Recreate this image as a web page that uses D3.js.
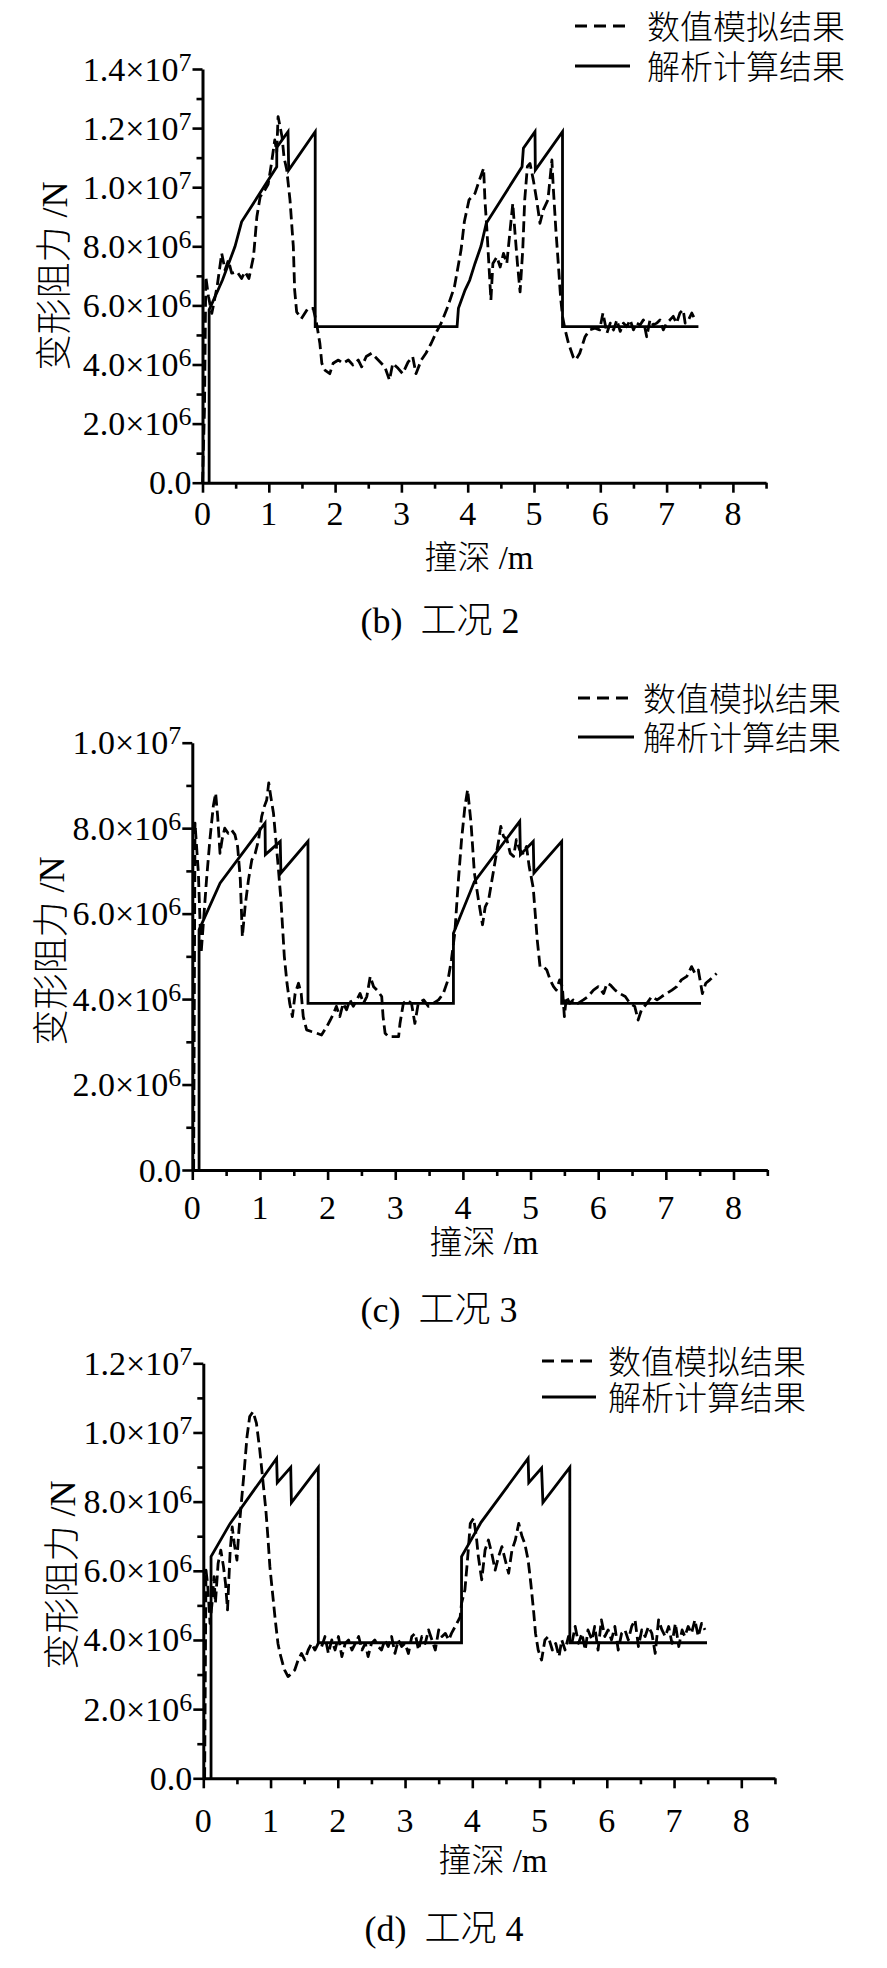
<!DOCTYPE html>
<html><head><meta charset="utf-8">
<script src="https://cdn.jsdelivr.net/npm/d3@7/dist/d3.min.js"></script>
<style>
body{margin:0;background:#fff;}
svg{display:block;}
</style></head><body>
<svg id="chart" width="887" height="1968"></svg>
<script>
// ---------------- DATA (depth in m, force in 10^6 N) ----------------
const seriesNames = ["数值模拟结果", "解析计算结果"];
const xAxisTitle = "撞深 /m";
const yAxisTitle = "变形阻力 /N";
const captions = ["(b)  工况 2", "(c)  工况 3", "(d)  工况 4"];
const xTickValues = [0,1,2,3,4,5,6,7,8];
const xTickLabels = ["0","1","2","3","4","5","6","7","8"];
const yTicksB = [0,2,4,6,8,10,12,14];
const yTicksC = [0,2,4,6,8,10];
const yTicksD = [0,2,4,6,8,10,12];
const yTickLabelsB = [["0.0",""],["2.0×10","6"],["4.0×10","6"],["6.0×10","6"],["8.0×10","6"],["1.0×10","7"],["1.2×10","7"],["1.4×10","7"]];
const yTickLabelsC = [["0.0",""],["2.0×10","6"],["4.0×10","6"],["6.0×10","6"],["8.0×10","6"],["1.0×10","7"]];
const yTickLabelsD = [["0.0",""],["2.0×10","6"],["4.0×10","6"],["6.0×10","6"],["8.0×10","6"],["1.0×10","7"],["1.2×10","7"]];

// case 2 (b)
const anaB = [[0.1,0],[0.1,5.85],[0.3,6.85],[0.49,7.99],[0.59,8.83],[1.12,10.69],[1.12,11.35],[1.29,11.88],[1.30,10.58],[1.70,11.88],[1.70,5.28],[3.84,5.28],[3.86,5.90],[3.96,6.52],[4.03,6.85],[4.11,7.42],[4.20,8.0],[4.28,8.78],[4.82,10.69],[4.84,11.32],[5.015,11.88],[5.02,10.58],[5.43,11.88],[5.43,5.28],[7.48,5.28]];
const numB = [[0,0],[0.03,2.5],[0.05,6.97],[0.09,6.3],[0.14,5.73],[0.22,6.63],[0.29,7.76],[0.34,7.2],[0.39,7.53],[0.44,7.09],[0.52,7.14],[0.59,6.91],[0.64,7.14],[0.70,6.91],[0.77,7.66],[0.82,9.0],[0.87,9.68],[0.94,9.9],[0.99,10.1],[1.04,10.8],[1.09,11.6],[1.12,11.2],[1.14,12.39],[1.17,12.05],[1.20,11.7],[1.23,11.0],[1.27,10.6],[1.32,9.56],[1.37,7.99],[1.39,6.52],[1.42,5.78],[1.49,5.55],[1.59,5.9],[1.67,5.9],[1.72,5.4],[1.77,4.72],[1.80,4.04],[1.85,3.8],[1.92,3.69],[1.97,4.04],[2.05,4.15],[2.12,4.04],[2.20,4.15],[2.27,3.98],[2.35,4.15],[2.40,3.92],[2.47,4.27],[2.55,4.38],[2.65,4.15],[2.75,3.92],[2.82,3.47],[2.87,4.04],[2.95,3.87],[3.02,3.69],[3.10,4.08],[3.17,4.27],[3.22,3.69],[3.30,4.15],[3.37,4.38],[3.45,4.72],[3.52,5.06],[3.60,5.4],[3.70,5.96],[3.80,6.63],[3.90,7.88],[3.95,8.84],[4.02,9.57],[4.07,9.7],[4.11,9.79],[4.17,10.2],[4.24,10.64],[4.26,9.57],[4.29,8.55],[4.33,6.98],[4.35,6.18],[4.38,7.42],[4.44,7.64],[4.49,7.3],[4.54,7.76],[4.59,7.42],[4.63,8.33],[4.68,9.45],[4.71,8.55],[4.75,7.42],[4.79,6.46],[4.83,7.87],[4.86,9.57],[4.90,10.7],[4.94,10.8],[4.99,10.24],[5.04,9.57],[5.09,8.78],[5.14,9.23],[5.21,9.57],[5.27,10.92],[5.29,10.02],[5.33,8.55],[5.37,7.3],[5.40,6.3],[5.43,5.63],[5.47,5.17],[5.52,4.72],[5.59,4.26],[5.63,4.15],[5.69,4.38],[5.77,4.94],[5.84,5.17],[5.92,5.23],[5.99,5.17],[6.04,5.74],[6.10,5.06],[6.15,5.4],[6.20,5.17],[6.25,5.51],[6.30,5.12],[6.35,5.4],[6.40,5.28],[6.45,5.51],[6.50,5.17],[6.55,5.4],[6.60,5.34],[6.65,5.51],[6.70,4.94],[6.75,5.51],[6.80,5.34],[6.85,5.4],[6.90,5.51],[6.95,5.17],[7.00,5.4],[7.05,5.51],[7.10,5.63],[7.15,5.4],[7.20,5.74],[7.25,5.85],[7.28,5.4],[7.33,5.51],[7.38,5.74],[7.43,5.51]];

// case 3 (c)
const anaC = [[0.1,0],[0.1,5.62],[0.41,6.71],[1.075,8.12],[1.08,7.38],[1.30,7.69],[1.31,6.95],[1.71,7.69],[1.71,3.90],[3.86,3.90],[3.86,5.54],[4.17,6.75],[4.84,8.16],[4.85,7.38],[5.04,7.69],[5.05,6.95],[5.46,7.69],[5.46,3.90],[7.52,3.90]];
const numC = [[0.02,0],[0.03,4.0],[0.04,8.12],[0.09,6.95],[0.13,5.07],[0.16,5.7],[0.21,6.79],[0.26,7.73],[0.31,8.51],[0.345,8.82],[0.375,8.27],[0.41,7.41],[0.44,7.73],[0.48,8.0],[0.53,7.88],[0.58,7.96],[0.63,7.85],[0.67,7.57],[0.71,6.79],[0.74,5.46],[0.78,6.16],[0.83,6.79],[0.88,7.26],[0.93,7.41],[0.98,7.73],[1.025,8.27],[1.065,8.51],[1.10,8.66],[1.13,9.06],[1.16,8.74],[1.20,8.35],[1.23,7.81],[1.27,7.1],[1.31,6.32],[1.34,5.54],[1.36,5.0],[1.40,4.37],[1.44,3.9],[1.48,3.59],[1.52,4.13],[1.57,4.37],[1.61,4.13],[1.64,3.59],[1.69,3.28],[1.76,3.24],[1.84,3.2],[1.91,3.16],[1.99,3.36],[2.04,3.51],[2.09,3.67],[2.13,3.83],[2.18,3.59],[2.23,3.9],[2.28,3.75],[2.33,3.98],[2.38,3.83],[2.43,3.98],[2.48,4.13],[2.53,3.9],[2.58,4.06],[2.63,4.53],[2.68,4.29],[2.73,4.21],[2.80,4.06],[2.82,3.59],[2.85,3.2],[2.90,3.12],[2.97,3.12],[3.05,3.12],[3.07,3.43],[3.12,3.9],[3.17,3.98],[3.24,3.9],[3.29,3.43],[3.34,3.9],[3.42,3.98],[3.49,3.83],[3.56,3.9],[3.64,3.98],[3.71,4.13],[3.78,4.45],[3.83,4.92],[3.88,5.54],[3.93,6.71],[3.98,7.73],[4.03,8.51],[4.07,8.9],[4.12,8.12],[4.17,6.95],[4.23,6.32],[4.29,5.74],[4.33,6.16],[4.38,6.32],[4.43,6.79],[4.48,7.26],[4.53,7.73],[4.56,8.04],[4.60,7.81],[4.65,7.73],[4.70,7.41],[4.75,7.34],[4.79,7.73],[4.84,7.49],[4.89,7.41],[4.94,7.57],[4.98,7.1],[5.04,6.6],[5.07,5.98],[5.10,5.37],[5.14,4.76],[5.19,4.76],[5.24,4.68],[5.29,4.45],[5.34,4.29],[5.38,4.21],[5.43,4.45],[5.47,4.29],[5.50,3.59],[5.53,4.06],[5.58,3.9],[5.63,3.98],[5.70,3.9],[5.78,3.98],[5.85,4.06],[5.93,4.21],[6.00,4.29],[6.08,4.13],[6.13,4.37],[6.18,4.33],[6.25,4.21],[6.32,4.13],[6.40,4.06],[6.47,3.9],[6.54,3.83],[6.59,3.51],[6.64,3.75],[6.72,3.9],[6.79,4.06],[6.87,3.98],[6.94,4.06],[7.01,4.13],[7.09,4.21],[7.16,4.29],[7.23,4.45],[7.31,4.53],[7.38,4.76],[7.43,4.6],[7.48,4.68],[7.54,4.13],[7.59,4.37],[7.65,4.45],[7.75,4.6]];

// case 4 (d)
const anaD = [[0.115,0],[0.115,6.41],[0.40,7.37],[1.09,9.25],[1.10,8.55],[1.30,8.99],[1.31,7.97],[1.71,8.99],[1.71,3.92],[3.84,3.92],[3.84,6.41],[4.13,7.40],[4.83,9.25],[4.84,8.55],[5.03,8.97],[5.05,7.97],[5.45,8.99],[5.45,3.92],[7.49,3.92]];
const numD = [[0.02,0],[0.03,3.0],[0.04,6.02],[0.065,5.6],[0.10,4.48],[0.13,5.06],[0.16,5.83],[0.18,5.06],[0.22,6.21],[0.26,6.6],[0.30,6.12],[0.33,5.64],[0.36,4.87],[0.40,6.6],[0.43,7.27],[0.46,6.79],[0.50,6.31],[0.53,7.18],[0.57,8.06],[0.61,8.93],[0.65,9.88],[0.69,10.46],[0.74,10.6],[0.79,10.27],[0.84,9.49],[0.89,8.53],[0.93,7.76],[0.96,6.99],[0.99,6.12],[1.03,5.35],[1.07,4.58],[1.11,3.9],[1.14,3.61],[1.18,3.32],[1.21,3.13],[1.26,2.94],[1.31,3.03],[1.36,3.13],[1.41,3.42],[1.46,3.61],[1.51,3.42],[1.56,3.71],[1.61,3.9],[1.66,3.71],[1.71,3.9],[1.76,3.81],[1.81,4.1],[1.86,3.61],[1.91,4.0],[1.96,3.71],[2.01,4.1],[2.06,3.52],[2.11,3.9],[2.16,4.0],[2.21,3.71],[2.26,3.9],[2.31,4.1],[2.36,3.71],[2.41,3.9],[2.45,3.52],[2.50,3.9],[2.55,4.0],[2.60,3.81],[2.65,3.71],[2.70,4.0],[2.75,3.81],[2.80,4.1],[2.85,3.61],[2.90,4.0],[2.95,3.81],[3.00,3.9],[3.05,3.61],[3.10,4.1],[3.15,4.19],[3.20,3.71],[3.25,4.1],[3.30,3.9],[3.35,4.29],[3.40,4.0],[3.45,3.71],[3.50,4.29],[3.55,4.1],[3.60,4.19],[3.65,4.0],[3.69,4.19],[3.77,4.48],[3.82,4.67],[3.84,5.06],[3.89,5.45],[3.92,6.12],[3.94,6.6],[3.97,7.37],[4.02,7.52],[4.06,6.99],[4.09,6.41],[4.14,5.74],[4.19,6.6],[4.24,6.89],[4.29,6.5],[4.34,6.02],[4.39,6.41],[4.44,6.7],[4.49,6.31],[4.54,5.93],[4.59,6.6],[4.64,6.89],[4.69,7.37],[4.74,6.99],[4.78,6.79],[4.83,6.31],[4.87,5.64],[4.91,4.87],[4.94,4.19],[4.98,3.71],[5.03,3.42],[5.08,4.0],[5.13,4.1],[5.19,3.71],[5.24,3.9],[5.29,3.52],[5.33,4.0],[5.38,3.71],[5.43,4.1],[5.48,3.9],[5.53,4.39],[5.58,3.9],[5.63,4.19],[5.68,3.71],[5.72,4.29],[5.78,4.0],[5.82,4.39],[5.87,3.71],[5.92,4.58],[5.97,4.1],[6.02,4.29],[6.07,4.0],[6.12,4.39],[6.17,3.71],[6.22,4.19],[6.27,4.29],[6.32,4.0],[6.37,4.39],[6.42,4.58],[6.47,3.81],[6.52,4.29],[6.57,4.1],[6.62,4.39],[6.67,4.19],[6.72,3.61],[6.77,4.58],[6.82,4.29],[6.87,4.1],[6.92,4.39],[6.97,3.9],[7.02,4.48],[7.07,3.81],[7.12,4.29],[7.16,4.1],[7.21,4.39],[7.26,4.19],[7.31,4.58],[7.36,4.1],[7.41,4.48],[7.46,4.29]];

// ---------------- LAYOUT ----------------
const panels = [
  {num:numB, ana:anaB, ymax:14, yTicks:yTicksB, yLabels:yTickLabelsB, left:202.5, kx:66.3, top:69, bottom:482.7,
   xLabY:525, xTitle:[479,569], yTitle:[67,276], caption:[440,633], legend:{x1:575,x2:627,tx:647,y1:26,y2:66}},
  {num:numC, ana:anaC, ymax:10, yTicks:yTicksC, yLabels:yTickLabelsC, left:192.3, kx:67.65, top:742.7, bottom:1170,
   xLabY:1219, xTitle:[484,1254], yTitle:[64,951], caption:[439,1322], legend:{x1:578,x2:631,tx:643,y1:698,y2:737}},
  {num:numD, ana:anaD, ymax:12, yTicks:yTicksD, yLabels:yTickLabelsD, left:203.3, kx:67.25, top:1363.3, bottom:1778.3,
   xLabY:1832, xTitle:[493,1872], yTitle:[75,1575], caption:[444,1941], legend:{x1:542,x2:593,tx:608,y1:1361,y2:1397}}
];

const svg = d3.select("#chart");
const FONT = "'Liberation Serif','Times New Roman','Noto Sans CJK SC',serif";
const DASH = "11,5";

panels.forEach((p, i) => {
  const x = d3.scaleLinear().domain([0, 8.5]).range([p.left, p.left + 8.5 * p.kx]);
  const y = d3.scaleLinear().domain([0, p.ymax]).range([p.bottom, p.top]);
  const g = svg.append("g");

  // x axis major + minor
  const gx = g.append("g").attr("transform", `translate(0,${p.bottom})`)
    .call(d3.axisBottom(x).tickValues(xTickValues).tickSize(10).tickSizeOuter(0).tickFormat(""));
  gx.append("g").call(d3.axisBottom(x).tickValues(d3.range(0.5, 8.6, 1)).tickSize(6).tickFormat(""))
    .select(".domain").remove();
  // y axis major + minor
  const gy = g.append("g").attr("transform", `translate(${p.left},0)`)
    .call(d3.axisLeft(y).tickValues(p.yTicks).tickSize(10).tickSizeOuter(0).tickFormat(""));
  gy.append("g").call(d3.axisLeft(y).tickValues(d3.range(1, p.ymax, 2)).tickSize(6).tickFormat(""))
    .select(".domain").remove();
  g.selectAll(".domain").attr("stroke", "#000").attr("stroke-width", 3);
  g.selectAll(".tick line").attr("stroke", "#000").attr("stroke-width", 2.6);

  // x tick labels
  g.append("g").selectAll("text").data(xTickValues).join("text")
    .attr("x", d => x(d)).attr("y", p.xLabY)
    .attr("text-anchor", "middle").attr("font-family", FONT).attr("font-size", 34)
    .text((d, j) => xTickLabels[j]);

  // y tick labels
  const yl = g.append("g").selectAll("text").data(p.yTicks).join("text")
    .attr("x", p.left - 11).attr("y", d => y(d) + 11.5)
    .attr("text-anchor", "end").attr("font-family", FONT).attr("font-size", 34);
  yl.each(function(d, j) {
    const t = d3.select(this);
    const lab = p.yLabels[j];
    t.append("tspan").text(lab[0]);
    if (lab[1]) t.append("tspan").attr("font-size", 26).attr("dy", -10).text(lab[1]);
  });

  // data lines
  const line = d3.line().x(d => x(d[0])).y(d => y(d[1]));
  g.append("path").datum(p.num).attr("d", line)
    .attr("fill", "none").attr("stroke", "#000").attr("stroke-width", 2.8)
    .attr("stroke-dasharray", DASH).attr("stroke-linejoin", "round");
  g.append("path").datum(p.ana).attr("d", line)
    .attr("fill", "none").attr("stroke", "#000").attr("stroke-width", 2.8)
    .attr("stroke-linejoin", "miter");

  // legend
  const L = p.legend;
  g.append("line").attr("x1", L.x1).attr("x2", L.x2).attr("y1", L.y1).attr("y2", L.y1)
    .attr("stroke", "#000").attr("stroke-width", 2.8).attr("stroke-dasharray", "12,7");
  g.append("line").attr("x1", L.x1).attr("x2", L.x2 + 3).attr("y1", L.y2).attr("y2", L.y2)
    .attr("stroke", "#000").attr("stroke-width", 2.8);
  g.append("text").attr("x", L.tx).attr("y", L.y1 + 12.5).attr("font-family", FONT).attr("font-weight", 300).attr("font-size", 33).text(seriesNames[0]);
  g.append("text").attr("x", L.tx).attr("y", L.y2 + 12.5).attr("font-family", FONT).attr("font-weight", 300).attr("font-size", 33).text(seriesNames[1]);

  // axis titles
  g.append("text").attr("x", p.xTitle[0]).attr("y", p.xTitle[1]).attr("text-anchor", "middle")
    .attr("font-family", FONT).attr("font-weight", 300).attr("font-size", 33).text(xAxisTitle);
  g.append("text").attr("transform", `translate(${p.yTitle[0]},${p.yTitle[1]}) rotate(-90)`)
    .attr("text-anchor", "middle").attr("font-family", FONT).attr("font-weight", 300).attr("font-size", 36).text(yAxisTitle);
  // caption
  g.append("text").attr("x", p.caption[0]).attr("y", p.caption[1]).attr("text-anchor", "middle")
    .attr("font-family", FONT).attr("font-weight", 300).attr("font-size", 36).attr("xml:space", "preserve")
    .style("white-space", "pre").text(captions[i]);
});
</script>
</body></html>
